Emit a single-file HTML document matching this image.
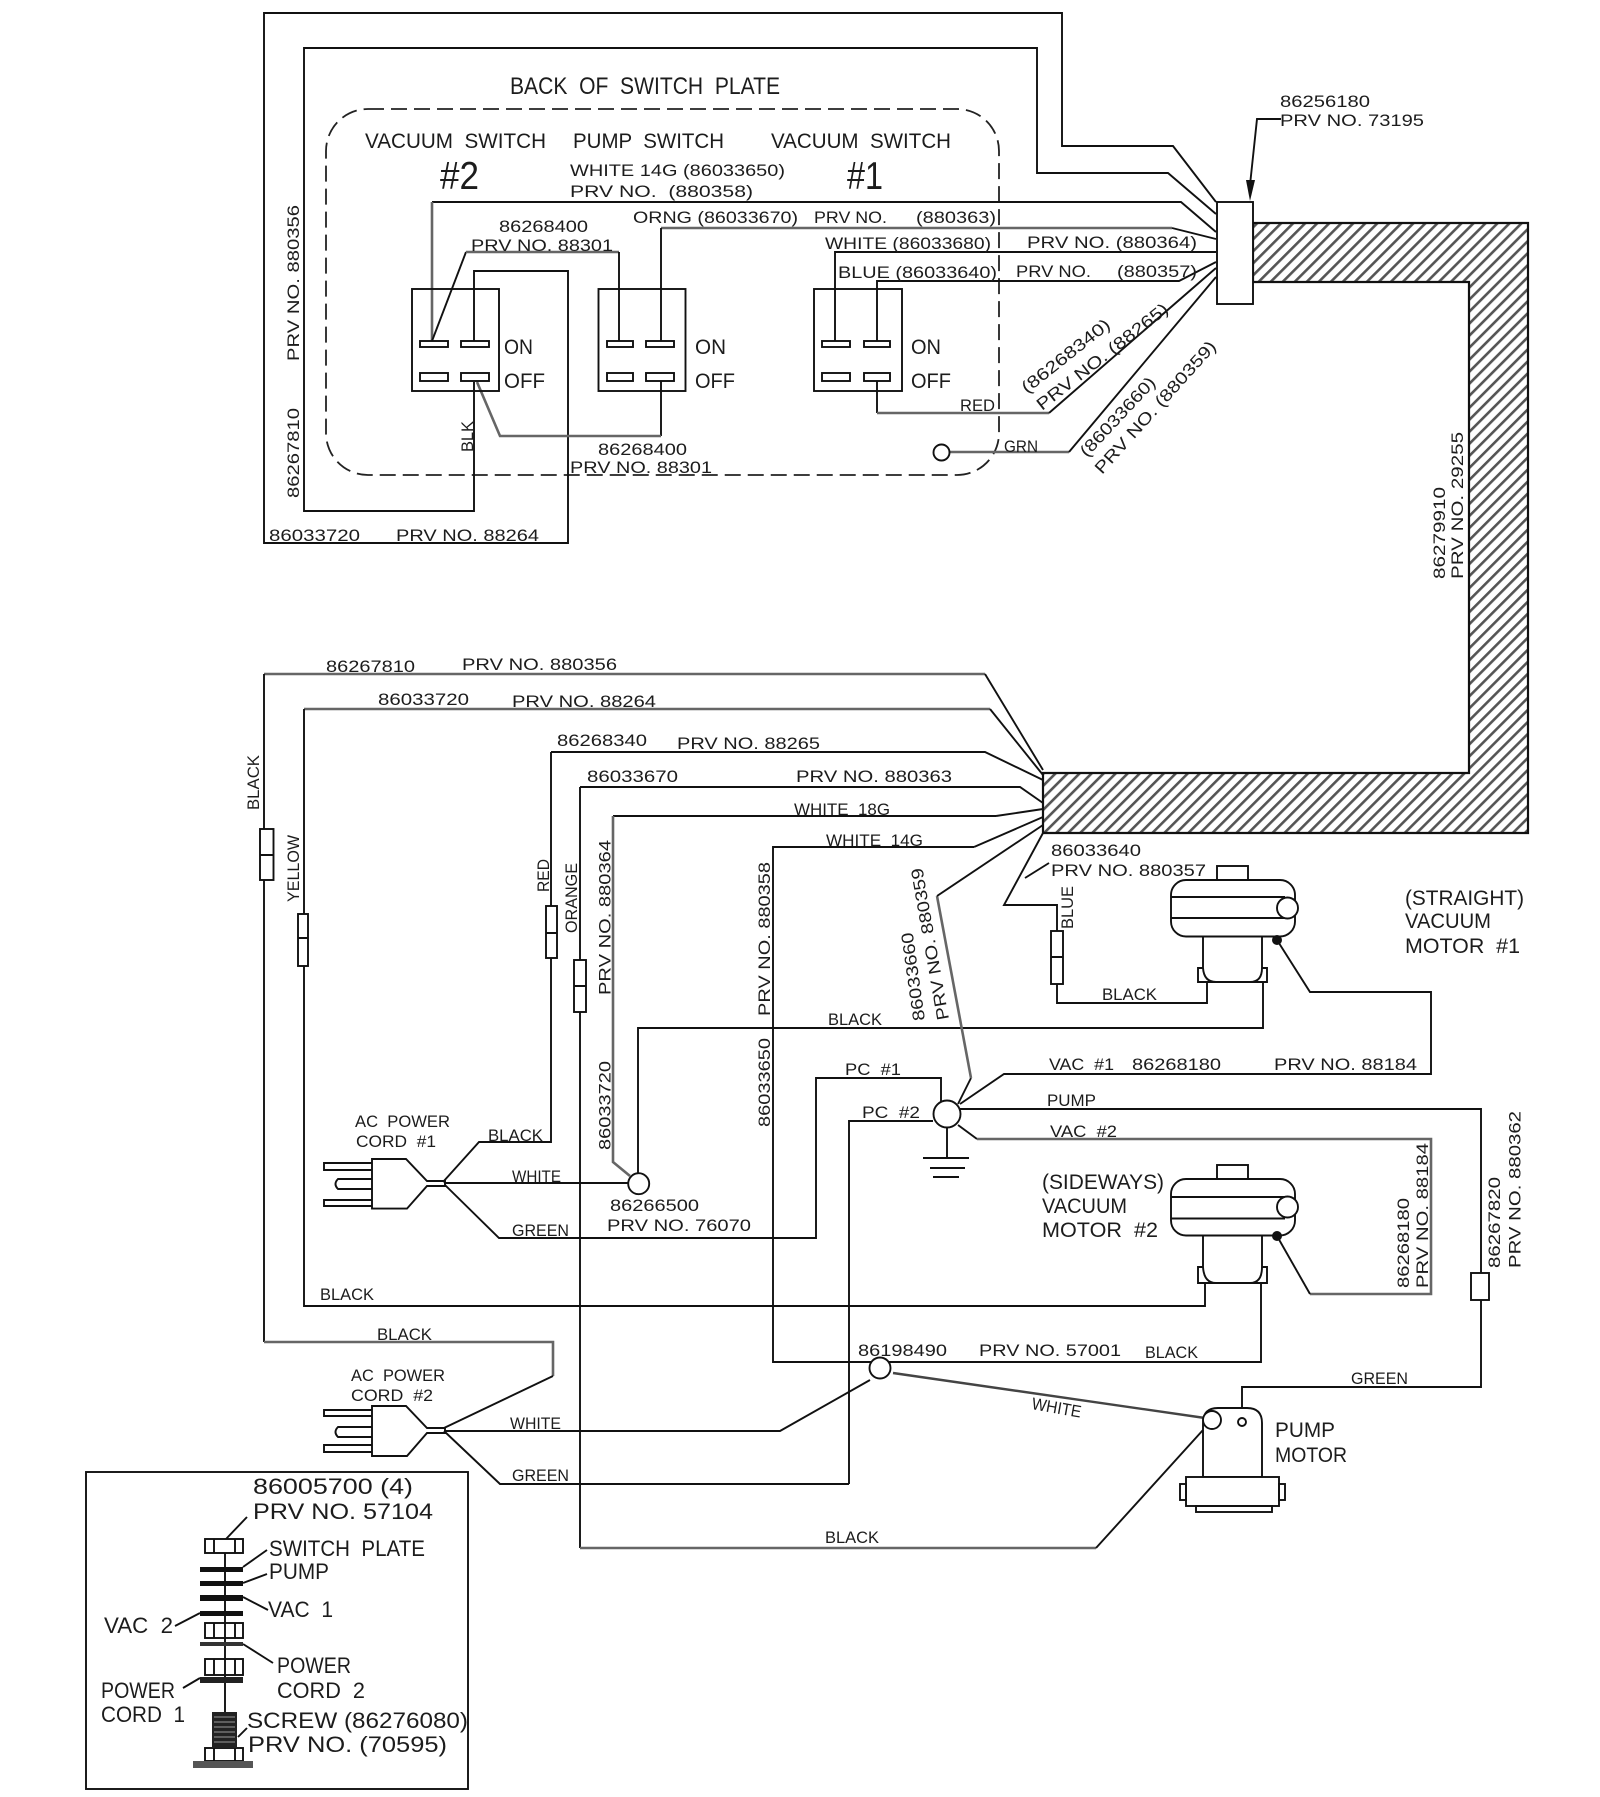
<!DOCTYPE html>
<html><head><meta charset="utf-8"><title>Wiring diagram</title>
<style>
html,body{margin:0;padding:0;background:#fff}
svg{display:block;filter:blur(0.35px)}
text{font-family:"Liberation Sans",sans-serif;fill:#1c1c1c;white-space:pre}
.s{font-size:17px}.m{font-size:21px}.l{font-size:24px}.h{font-size:39px}.g{font-size:22px}
.k{fill:none;stroke:#111;stroke-width:1.9}
.y{fill:none;stroke:#666;stroke-width:2.6}
.w{fill:#fff;stroke:#111;stroke-width:1.9}
</style></head><body>
<svg xmlns="http://www.w3.org/2000/svg" width="1600" height="1797" viewBox="0 0 1600 1797">
<defs>
<pattern id="ht" width="8.5" height="8.5" patternUnits="userSpaceOnUse" patternTransform="rotate(45)">
<rect width="8.5" height="8.5" fill="#fff"/><rect x="0" y="0" width="2.6" height="8.5" fill="#555"/>
</pattern>
</defs>
<!-- hatch band -->
<polygon points="1253,223 1528,223 1528,833 1043,833 1043,773 1469,773 1469,282 1253,282" fill="url(#ht)" stroke="#111" stroke-width="2.2"/>
<!-- dashed plate -->
<rect x="326" y="109" width="673" height="366" rx="42" ry="42" fill="none" stroke="#222" stroke-width="1.8" stroke-dasharray="16 7"/>
<!-- top wires -->
<path class="k" d="M1216,202 L1173,146 H1062 V13 H264 V543 H568 V271 H474 V341"/>
<path class="k" d="M1216,214 L1168,173 H1037 V48 H304 V511 H474 V382"/>
<path class="k" d="M1216,232 L1181,202 H432"/>
<path class="y" d="M432,202 V341"/>
<path class="y" d="M1172,228 H661"/><path class="k" d="M1216,239 L1172,228"/>
<path class="k" d="M661,228 V341"/>
<path class="k" d="M1216,252 H835 V341"/>
<path class="k" d="M1216,262 L1179,281 H877 V341"/>
<path class="k" d="M877,381 V413"/><path class="y" d="M877,413 H1049"/><path class="k" d="M1049,413 L1216,268"/>
<path class="y" d="M950,452 H1069"/><path class="k" d="M1069,452 L1216,277"/>
<path class="k" d="M432,341 L466,252"/><path class="y" d="M466,252 H619"/><path class="k" d="M619,252 V341"/>
<path class="k" d="M661,381 V436"/><path class="y" d="M661,436 H500 L477,382"/>
<circle cx="941.5" cy="452.5" r="8" class="w"/>
<!-- switches -->
<g class="k">
<rect x="412" y="289" width="87" height="102"/><rect x="598.5" y="289" width="87" height="102"/><rect x="814" y="289" width="88" height="102"/>
<rect x="420" y="341" width="28" height="6"/><rect x="461" y="341" width="28" height="6"/><rect x="420" y="373" width="28" height="8"/><rect x="461" y="373" width="28" height="8"/>
<rect x="607" y="341" width="26" height="6"/><rect x="646" y="341" width="28" height="6"/><rect x="607" y="373" width="26" height="8"/><rect x="646" y="373" width="28" height="8"/>
<rect x="822" y="341" width="28" height="6"/><rect x="864" y="341" width="26" height="6"/><rect x="822" y="373" width="28" height="8"/><rect x="864" y="373" width="26" height="8"/>
</g>
<!-- connector top -->
<rect x="1217" y="202" width="36" height="102" class="w" fill="#fff"/>
<path class="k" d="M1281,119 H1257 L1250,185"/><polygon points="1246,180 1255,180 1250,201" fill="#111"/>
<!-- top labels -->
<text class="l" x="510" y="94" textLength="270" lengthAdjust="spacingAndGlyphs">BACK  OF  SWITCH  PLATE</text>
<text class="m" x="365" y="148" textLength="181" lengthAdjust="spacingAndGlyphs">VACUUM  SWITCH</text>
<text class="m" x="573" y="148" textLength="151" lengthAdjust="spacingAndGlyphs">PUMP  SWITCH</text>
<text class="m" x="771" y="148" textLength="180" lengthAdjust="spacingAndGlyphs">VACUUM  SWITCH</text>
<text class="h" x="440" y="189" textLength="39" lengthAdjust="spacingAndGlyphs">#2</text>
<text class="h" x="847" y="189" textLength="36" lengthAdjust="spacingAndGlyphs">#1</text>
<text class="s" x="570" y="176" textLength="215" lengthAdjust="spacingAndGlyphs">WHITE 14G (86033650)</text>
<text class="s" x="570" y="197" textLength="183" lengthAdjust="spacingAndGlyphs">PRV NO.  (880358)</text>
<text class="s" x="633" y="223" textLength="165" lengthAdjust="spacingAndGlyphs">ORNG (86033670)</text>
<text class="s" x="814" y="223" textLength="73" lengthAdjust="spacingAndGlyphs">PRV NO.</text>
<text class="s" x="916" y="223" textLength="80" lengthAdjust="spacingAndGlyphs">(880363)</text>
<text class="s" x="499" y="232" textLength="89" lengthAdjust="spacingAndGlyphs">86268400</text>
<text class="s" x="471" y="251" textLength="142" lengthAdjust="spacingAndGlyphs">PRV NO. 88301</text>
<text class="s" x="825" y="249" textLength="166" lengthAdjust="spacingAndGlyphs">WHITE (86033680)</text>
<text class="s" x="1027" y="248" textLength="170" lengthAdjust="spacingAndGlyphs">PRV NO. (880364)</text>
<text class="s" x="838" y="278" textLength="159" lengthAdjust="spacingAndGlyphs">BLUE (86033640)</text>
<text class="s" x="1016" y="277" textLength="75" lengthAdjust="spacingAndGlyphs">PRV NO.</text>
<text class="s" x="1117" y="277" textLength="80" lengthAdjust="spacingAndGlyphs">(880357)</text>
<text class="s" x="1280" y="107" textLength="90" lengthAdjust="spacingAndGlyphs">86256180</text>
<text class="s" x="1280" y="126" textLength="144" lengthAdjust="spacingAndGlyphs">PRV NO. 73195</text>
<text class="m" x="504" y="354" textLength="29" lengthAdjust="spacingAndGlyphs">ON</text>
<text class="m" x="504" y="388" textLength="41" lengthAdjust="spacingAndGlyphs">OFF</text>
<text class="m" x="695" y="354" textLength="31" lengthAdjust="spacingAndGlyphs">ON</text>
<text class="m" x="695" y="388" textLength="40" lengthAdjust="spacingAndGlyphs">OFF</text>
<text class="m" x="911" y="354" textLength="30" lengthAdjust="spacingAndGlyphs">ON</text>
<text class="m" x="911" y="388" textLength="40" lengthAdjust="spacingAndGlyphs">OFF</text>
<text class="s" x="598" y="455" textLength="89" lengthAdjust="spacingAndGlyphs">86268400</text>
<text class="s" x="570" y="473" textLength="142" lengthAdjust="spacingAndGlyphs">PRV NO. 88301</text>
<text class="s" x="269" y="541" textLength="91" lengthAdjust="spacingAndGlyphs">86033720</text>
<text class="s" x="396" y="541" textLength="143" lengthAdjust="spacingAndGlyphs">PRV NO. 88264</text>
<text class="s" x="960" y="411" textLength="35" lengthAdjust="spacingAndGlyphs">RED</text>
<text class="s" x="1004" y="452" textLength="34" lengthAdjust="spacingAndGlyphs">GRN</text>
<text class="s" transform="translate(473,452) rotate(-90)" textLength="31" lengthAdjust="spacingAndGlyphs">BLK</text>
<text class="s" transform="translate(299,361) rotate(-90)" textLength="156" lengthAdjust="spacingAndGlyphs">PRV NO. 880356</text>
<text class="s" transform="translate(299,498) rotate(-90)" textLength="90" lengthAdjust="spacingAndGlyphs">86267810</text>
<text class="s" transform="translate(1027,394) rotate(-38.5)" textLength="108" lengthAdjust="spacingAndGlyphs">(86268340)</text>
<text class="s" transform="translate(1042,411) rotate(-38)" textLength="162" lengthAdjust="spacingAndGlyphs">PRV NO. (88265)</text>
<text class="s" transform="translate(1087,458) rotate(-47)" textLength="102" lengthAdjust="spacingAndGlyphs">(86033660)</text>
<text class="s" transform="translate(1102,475) rotate(-48)" textLength="172" lengthAdjust="spacingAndGlyphs">PRV NO. (880359)</text>
<text class="s" transform="translate(1445,579) rotate(-90)" textLength="92" lengthAdjust="spacingAndGlyphs">86279910</text>
<text class="s" transform="translate(1463,579) rotate(-90)" textLength="147" lengthAdjust="spacingAndGlyphs">PRV NO. 29255</text>

<!-- middle wires -->
<path class="y" d="M264,674 H985"/><path class="k" d="M985,674 L1043,770"/>
<path class="k" d="M264,674 V1342"/><path class="y" d="M264,1342 H553 V1376"/><path class="k" d="M553,1376 L444,1428"/>
<path class="y" d="M304,709 H990"/><path class="k" d="M990,709 L1043,775"/>
<path class="k" d="M304,709 V1306 H1205 V1283"/>
<path class="k" d="M551,752 H985 L1043,780"/>
<path class="k" d="M551,752 V1142 H479 L443,1182"/>
<path class="k" d="M580,787 H1020 L1043,803"/>
<path class="k" d="M580,787 V1548"/><path class="y" d="M580,1548 H1096"/><path class="k" d="M1096,1548 L1203,1430"/>
<path class="k" d="M996,816 H613"/><path class="k" d="M996,816 L1043,809"/>
<path class="y" d="M613,816 V1162 L630,1176"/>
<path class="k" d="M974,847 H773 V1362 H1261 V1283"/><path class="k" d="M974,847 L1043,817"/>
<path class="k" d="M638,1173 V1028 H1263 V982"/>
<path class="k" d="M1043,833 L1004,905 H1057 V1003 H1207 V982"/>
<path class="k" d="M1049,863 L1025,878"/>
<path class="k" d="M445,1185 L499,1238 H816 V1078 H941 V1102"/>
<path class="k" d="M849,1484 V1121 H933"/>
<path class="k" d="M849,1484 H500 L444,1431"/>
<path class="k" d="M444,1183 H628"/>
<path class="k" d="M958,1104 L971,1078"/><path class="y" d="M971,1078 L937,896" stroke-width="2.200"/><path class="k" d="M937,896 L1043,825"/>
<path class="k" d="M1277,940 L1310,992 H1431 V1074 H1004 L960,1104"/>
<path class="k" d="M960,1109 H1481 V1387 H1242 V1422"/>
<path class="k" d="M958,1125 L977,1139"/><path class="y" d="M977,1139 H1431 V1294 H1310"/><path class="k" d="M1310,1294 L1277,1236"/>
<path class="k" d="M947,1127 V1158 M923,1158 H969 M930,1168 H965 M933,1177 H959"/>
<circle cx="947" cy="1114" r="13.5" class="w"/>
<circle cx="638.7" cy="1183.7" r="10.5" class="w"/>
<!-- fuses -->
<g class="w">
<rect x="260" y="829" width="13.5" height="51"/><rect x="298" y="914" width="10" height="52"/><rect x="546" y="906" width="11" height="52"/><rect x="574" y="960" width="12" height="52"/><rect x="1051" y="931" width="12" height="53"/><rect x="1471" y="1273" width="18" height="27"/>
</g>
<path class="k" d="M260,855 H273 M298,938 H308 M546,933 H557 M574,986 H586 M1051,957 H1063"/>
<!-- motors -->
<g id="mot1">
<rect x="1217" y="866" width="31" height="14" class="k"/>
<rect x="1171" y="880" width="124" height="56.5" rx="15" class="w"/>
<path class="k" d="M1171,897 H1285 M1171,918 H1285"/>
<circle cx="1287.5" cy="908" r="10.5" class="w"/>
<circle cx="1277" cy="940" r="5" fill="#111"/>
<path class="k" d="M1203,936 V968 Q1204,982 1216,982 H1250 Q1262,982 1262,968 V936"/>
<path class="k" d="M1203,968 H1198 V982 H1267 V968 H1262"/>
</g>
<g>
<rect x="1217" y="1165" width="31" height="14" class="k"/>
<rect x="1171" y="1179" width="124" height="56.5" rx="15" class="w"/>
<path class="k" d="M1171,1197 H1285 M1171,1218.500 H1285"/>
<circle cx="1287.5" cy="1207" r="10.5" class="w"/>
<circle cx="1277" cy="1236" r="5" fill="#111"/>
<path class="k" d="M1203,1235 V1267 Q1204,1283 1216,1283 H1250 Q1262,1283 1262,1267 V1235"/>
<path class="k" d="M1203,1267 H1198 V1283 H1267 V1267 H1262"/>
</g>
<!-- plug 1 -->
<g class="k">
<path d="M372,1163 H324 V1170 H372 M372,1200 H324 V1206 H372 M372,1179 H338 Q333,1184 338,1189 H372"/>
<path d="M372,1159 H406 L427,1181 H445 V1186 H427 L407,1208.600 H372 Z"/>
</g>
<!-- plug 2 -->
<g class="k">
<path d="M372,1410 H324 V1416 H372 M372,1445 H324 V1452 H372 M372,1427 H338 Q333,1432 338,1437 H372"/>
<path d="M372,1406 H406 L427,1428 H445 V1433 H427 L407,1456 H372 Z"/>
</g>
<path class="k" d="M444,1431 H780 L870,1380"/>
<path d="M893,1373 L1205,1418" fill="none" stroke="#444" stroke-width="2.400"/>
<circle cx="880" cy="1368" r="10.5" class="w"/>
<!-- pump motor -->
<path class="w" d="M1203,1477 V1423 Q1203,1408 1218,1408 H1247 Q1262,1408 1262,1423 V1477 Z"/>
<circle cx="1212" cy="1420" r="9" class="w"/>
<circle cx="1242" cy="1422" r="4" class="w"/>
<rect x="1186" y="1477" width="93" height="29" class="w"/>
<rect x="1180" y="1484" width="6" height="16" class="k"/><rect x="1279" y="1484" width="6" height="16" class="k"/>
<rect x="1196" y="1506" width="76" height="6" class="k"/>
<!-- middle labels -->
<text class="s" x="326" y="672" textLength="89" lengthAdjust="spacingAndGlyphs">86267810</text>
<text class="s" x="462" y="670" textLength="155" lengthAdjust="spacingAndGlyphs">PRV NO. 880356</text>
<text class="s" x="378" y="705" textLength="91" lengthAdjust="spacingAndGlyphs">86033720</text>
<text class="s" x="512" y="707" textLength="144" lengthAdjust="spacingAndGlyphs">PRV NO. 88264</text>
<text class="s" x="557" y="746" textLength="90" lengthAdjust="spacingAndGlyphs">86268340</text>
<text class="s" x="677" y="749" textLength="143" lengthAdjust="spacingAndGlyphs">PRV NO. 88265</text>
<text class="s" x="587" y="782" textLength="91" lengthAdjust="spacingAndGlyphs">86033670</text>
<text class="s" x="796" y="782" textLength="156" lengthAdjust="spacingAndGlyphs">PRV NO. 880363</text>
<text class="s" x="794" y="815" textLength="96" lengthAdjust="spacingAndGlyphs">WHITE  18G</text>
<text class="s" x="826" y="846" textLength="97" lengthAdjust="spacingAndGlyphs">WHITE  14G</text>
<text class="s" x="828" y="1025" textLength="54" lengthAdjust="spacingAndGlyphs">BLACK</text>
<text class="s" x="845" y="1075" textLength="56" lengthAdjust="spacingAndGlyphs">PC  #1</text>
<text class="s" x="862" y="1118" textLength="58" lengthAdjust="spacingAndGlyphs">PC  #2</text>
<text class="s" x="355" y="1127" textLength="95" lengthAdjust="spacingAndGlyphs">AC  POWER</text>
<text class="s" x="356" y="1147" textLength="80" lengthAdjust="spacingAndGlyphs">CORD  #1</text>
<text class="s" x="488" y="1141" textLength="55" lengthAdjust="spacingAndGlyphs">BLACK</text>
<text class="s" x="512" y="1182" textLength="49" lengthAdjust="spacingAndGlyphs">WHITE</text>
<text class="s" x="512" y="1236" textLength="57" lengthAdjust="spacingAndGlyphs">GREEN</text>
<text class="s" x="610" y="1211" textLength="89" lengthAdjust="spacingAndGlyphs">86266500</text>
<text class="s" x="607" y="1231" textLength="144" lengthAdjust="spacingAndGlyphs">PRV NO. 76070</text>
<text class="s" x="1051" y="856" textLength="90" lengthAdjust="spacingAndGlyphs">86033640</text>
<text class="s" x="1051" y="876" textLength="155" lengthAdjust="spacingAndGlyphs">PRV NO. 880357</text>
<text class="s" x="1102" y="1000" textLength="55" lengthAdjust="spacingAndGlyphs">BLACK</text>
<text class="s" x="1049" y="1070" textLength="65" lengthAdjust="spacingAndGlyphs">VAC  #1</text>
<text class="s" x="1132" y="1070" textLength="89" lengthAdjust="spacingAndGlyphs">86268180</text>
<text class="s" x="1274" y="1070" textLength="143" lengthAdjust="spacingAndGlyphs">PRV NO. 88184</text>
<text class="s" x="1047" y="1106" textLength="49" lengthAdjust="spacingAndGlyphs">PUMP</text>
<text class="s" x="1050" y="1137" textLength="67" lengthAdjust="spacingAndGlyphs">VAC  #2</text>
<text class="m" x="1405" y="905" textLength="119" lengthAdjust="spacingAndGlyphs">(STRAIGHT)</text>
<text class="m" x="1405" y="928" textLength="86" lengthAdjust="spacingAndGlyphs">VACUUM</text>
<text class="m" x="1405" y="953" textLength="115" lengthAdjust="spacingAndGlyphs">MOTOR  #1</text>
<text class="m" x="1042" y="1189" textLength="122" lengthAdjust="spacingAndGlyphs">(SIDEWAYS)</text>
<text class="m" x="1042" y="1213" textLength="85" lengthAdjust="spacingAndGlyphs">VACUUM</text>
<text class="m" x="1042" y="1237" textLength="116" lengthAdjust="spacingAndGlyphs">MOTOR  #2</text>
<text class="s" x="320" y="1300" textLength="54" lengthAdjust="spacingAndGlyphs">BLACK</text>
<text class="s" x="377" y="1340" textLength="55" lengthAdjust="spacingAndGlyphs">BLACK</text>
<text class="s" x="351" y="1381" textLength="94" lengthAdjust="spacingAndGlyphs">AC  POWER</text>
<text class="s" x="351" y="1401" textLength="82" lengthAdjust="spacingAndGlyphs">CORD  #2</text>
<text class="s" x="510" y="1429" textLength="51" lengthAdjust="spacingAndGlyphs">WHITE</text>
<text class="s" x="512" y="1481" textLength="57" lengthAdjust="spacingAndGlyphs">GREEN</text>
<text class="s" x="858" y="1356" textLength="89" lengthAdjust="spacingAndGlyphs">86198490</text>
<text class="s" x="979" y="1356" textLength="142" lengthAdjust="spacingAndGlyphs">PRV NO. 57001</text>
<text class="s" x="1145" y="1358" textLength="53" lengthAdjust="spacingAndGlyphs">BLACK</text>
<text class="s" x="825" y="1543" textLength="54" lengthAdjust="spacingAndGlyphs">BLACK</text>
<text class="s" x="1351" y="1384" textLength="57" lengthAdjust="spacingAndGlyphs">GREEN</text>
<text class="s" transform="translate(1031,1409) rotate(10)" textLength="50" lengthAdjust="spacingAndGlyphs">WHITE</text>
<text class="m" x="1275" y="1437" textLength="60" lengthAdjust="spacingAndGlyphs">PUMP</text>
<text class="m" x="1275" y="1462" textLength="72" lengthAdjust="spacingAndGlyphs">MOTOR</text>
<text class="s" transform="translate(259,810) rotate(-90)" textLength="55" lengthAdjust="spacingAndGlyphs">BLACK</text>
<text class="s" transform="translate(299,902) rotate(-90)" textLength="67" lengthAdjust="spacingAndGlyphs">YELLOW</text>
<text class="s" transform="translate(549,892) rotate(-90)" textLength="33" lengthAdjust="spacingAndGlyphs">RED</text>
<text class="s" transform="translate(577,933) rotate(-90)" textLength="70" lengthAdjust="spacingAndGlyphs">ORANGE</text>
<text class="s" transform="translate(610.500,995) rotate(-90)" textLength="155" lengthAdjust="spacingAndGlyphs">PRV NO. 880364</text>
<text class="s" transform="translate(610.500,1150) rotate(-90)" textLength="89" lengthAdjust="spacingAndGlyphs">86033720</text>
<text class="s" transform="translate(770,1016) rotate(-90)" textLength="154" lengthAdjust="spacingAndGlyphs">PRV NO. 880358</text>
<text class="s" transform="translate(770,1127) rotate(-90)" textLength="89" lengthAdjust="spacingAndGlyphs">86033650</text>
<text class="s" transform="translate(925,1020) rotate(-98)" textLength="89" lengthAdjust="spacingAndGlyphs">86033660</text>
<text class="s" transform="translate(949,1019) rotate(-100)" textLength="154" lengthAdjust="spacingAndGlyphs">PRV NO. 880359</text>
<text class="s" transform="translate(1073,929) rotate(-90)" textLength="43" lengthAdjust="spacingAndGlyphs">BLUE</text>
<text class="s" transform="translate(1409,1288) rotate(-90)" textLength="90" lengthAdjust="spacingAndGlyphs">86268180</text>
<text class="s" transform="translate(1428,1288) rotate(-90)" textLength="145" lengthAdjust="spacingAndGlyphs">PRV NO. 88184</text>
<text class="s" transform="translate(1500,1268) rotate(-90)" textLength="91" lengthAdjust="spacingAndGlyphs">86267820</text>
<text class="s" transform="translate(1520.500,1268) rotate(-90)" textLength="157" lengthAdjust="spacingAndGlyphs">PRV NO. 880362</text>

<!-- legend -->
<rect x="86" y="1472" width="382" height="317" class="w"/>
<path class="k" d="M225,1553 V1712"/>
<g class="k">
<rect x="205" y="1539" width="38" height="14"/><path d="M214,1539 V1553 M235,1539 V1553"/>
<rect x="205" y="1623" width="38" height="15"/><path d="M214,1623 V1638 M235,1623 V1638"/>
<rect x="205" y="1659" width="38" height="16"/><path d="M214,1659 V1675 M235,1659 V1675"/>
<rect x="205" y="1748" width="38" height="13"/><path d="M214,1748 V1761 M235,1748 V1761"/>
</g>
<g fill="#111">
<rect x="200" y="1567" width="43" height="5"/><rect x="200" y="1581" width="43" height="5"/><rect x="200" y="1595" width="43" height="6"/><rect x="200" y="1611" width="43" height="5"/>
<rect x="200" y="1642" width="43" height="4" fill="#333"/><rect x="200" y="1677" width="43" height="6" fill="#222"/>
<rect x="212" y="1712" width="25" height="36" fill="#222"/>
<rect x="193" y="1761" width="60" height="7" fill="#555"/>
</g>
<path d="M214,1717 H235 M214,1722 H235 M214,1727 H235 M214,1732 H235 M214,1737 H235 M214,1742 H235" stroke="#999" stroke-width="1" fill="none"/>
<path class="k" d="M247,1517 L226,1539 M267,1550 L243,1567 M267,1574 L243,1583 M268,1610 L243,1597 M175,1626 L200,1613 M273,1663 L243,1644 M183,1688 L200,1678 M247,1728 L238,1737"/>
<text class="g" x="253" y="1494" textLength="160" lengthAdjust="spacingAndGlyphs">86005700 (4)</text>
<text class="g" x="253" y="1519" textLength="180" lengthAdjust="spacingAndGlyphs">PRV NO. 57104</text>
<text class="g" x="269" y="1556" textLength="156" lengthAdjust="spacingAndGlyphs">SWITCH  PLATE</text>
<text class="g" x="269" y="1579" textLength="60" lengthAdjust="spacingAndGlyphs">PUMP</text>
<text class="g" x="268" y="1617" textLength="65" lengthAdjust="spacingAndGlyphs">VAC  1</text>
<text class="g" x="104" y="1633" textLength="69" lengthAdjust="spacingAndGlyphs">VAC  2</text>
<text class="g" x="277" y="1673" textLength="74" lengthAdjust="spacingAndGlyphs">POWER</text>
<text class="g" x="277" y="1698" textLength="88" lengthAdjust="spacingAndGlyphs">CORD  2</text>
<text class="g" x="101" y="1698" textLength="74" lengthAdjust="spacingAndGlyphs">POWER</text>
<text class="g" x="101" y="1722" textLength="84" lengthAdjust="spacingAndGlyphs">CORD  1</text>
<text class="g" x="247" y="1728" textLength="221" lengthAdjust="spacingAndGlyphs">SCREW (86276080)</text>
<text class="g" x="248" y="1752" textLength="199" lengthAdjust="spacingAndGlyphs">PRV NO. (70595)</text>
</svg>
</body></html>
